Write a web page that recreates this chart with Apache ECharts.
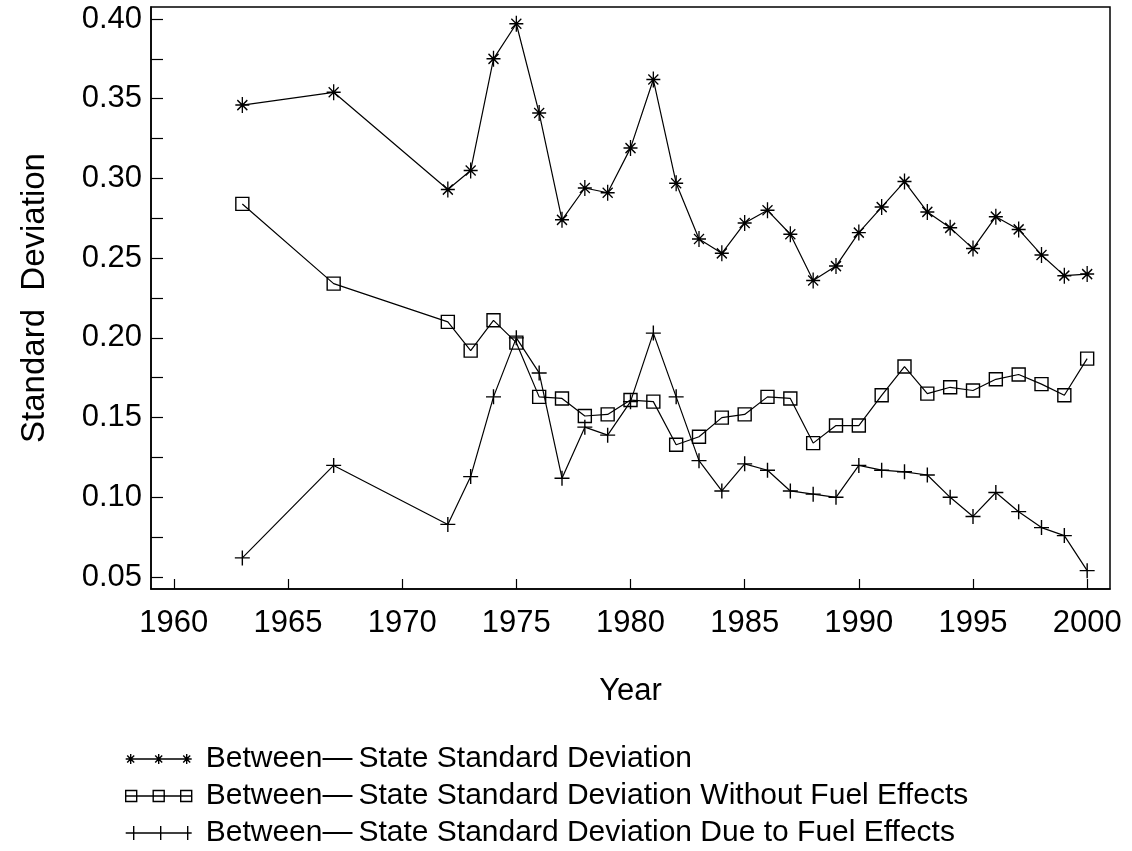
<!DOCTYPE html>
<html>
<head>
<meta charset="utf-8">
<title>Between-State Standard Deviation</title>
<script src="https://cdn.jsdelivr.net/npm/echarts@6/dist/echarts.min.js"></script>
<style>
  html, body { margin: 0; padding: 0; background: #fff; }
  #chart { width: 1132px; height: 851px; }
</style>
</head>
<body>
<div id="chart"></div>
<script>
// Observation years
const years = [1963, 1967, 1972, 1973, 1974, 1975, 1976, 1977, 1978, 1979, 1980,
  1981, 1982, 1983, 1984, 1985, 1986, 1987, 1988, 1989, 1990,
  1991, 1992, 1993, 1994, 1995, 1996, 1997, 1998, 1999, 2000];

// Between-state standard deviation
const sdTotal = [0.346, 0.354, 0.293, 0.305, 0.375, 0.397, 0.341, 0.274, 0.294, 0.291, 0.319,
  0.362, 0.297, 0.262, 0.253, 0.272, 0.280, 0.265, 0.236, 0.245, 0.266,
  0.282, 0.298, 0.279, 0.269, 0.256, 0.276, 0.268, 0.252, 0.239, 0.240];

// Standard deviation without fuel effects
const sdWithoutFuel = [0.284, 0.234, 0.210, 0.192, 0.211, 0.197, 0.163, 0.162, 0.151, 0.152, 0.161,
  0.160, 0.133, 0.138, 0.150, 0.152, 0.163, 0.162, 0.134, 0.145, 0.145,
  0.164, 0.182, 0.165, 0.169, 0.167, 0.174, 0.177, 0.171, 0.164, 0.187];

// Standard deviation due to fuel effects
const sdFuel = [0.062, 0.120, 0.083, 0.113, 0.163, 0.200, 0.178, 0.112, 0.144, 0.139, 0.160,
  0.203, 0.163, 0.123, 0.104, 0.121, 0.117, 0.104, 0.102, 0.100, 0.120,
  0.117, 0.116, 0.114, 0.100, 0.088, 0.103, 0.091, 0.081, 0.076, 0.054];

// Axis ticks
const xTicks = [1960, 1965, 1970, 1975, 1980, 1985, 1990, 1995, 2000];
const yLabelTicks = [0.05, 0.10, 0.15, 0.20, 0.25, 0.30, 0.35, 0.40];
const yTicks = [0.05, 0.075, 0.10, 0.125, 0.15, 0.175, 0.20, 0.225, 0.25, 0.275, 0.30, 0.325, 0.35, 0.375, 0.40];

const seriesNames = [
  'Between—\u2009State Standard Deviation',
  'Between—\u2009State Standard Deviation Without Fuel Effects',
  'Between—\u2009State Standard Deviation Due to Fuel Effects'
];

// Marker glyphs
const starPath = 'path://M7,0L7,16M0,8L14,8M2,3L12,13M12,3L2,13';
const squarePath = 'path://M0,0L13,0L13,13L0,13Z';
const plusPath = 'path://M7.5,0L7.5,15M0,7.5L15,7.5';

// Legend glyphs: a short line carrying three markers
const starLegend = 'path://M5,5L61,5' +
  'M5,0L5,10M0,5L10,5M1.5,1.5L8.5,8.5M8.5,1.5L1.5,8.5' +
  'M33,0L33,10M28,5L38,5M29.5,1.5L36.5,8.5M36.5,1.5L29.5,8.5' +
  'M61,0L61,10M56,5L66,5M57.5,1.5L64.5,8.5M64.5,1.5L57.5,8.5';
const squareLegend = 'path://M11,5.5L27.5,5.5M38.5,5.5L55,5.5' +
  'M0,0L11,0L11,11L0,11ZM27.5,0L38.5,0L38.5,11L27.5,11ZM55,0L66,0L66,11L55,11Z' +
  'M0,5.5L11,5.5M27.5,5.5L38.5,5.5M55,5.5L66,5.5';
const plusLegend = 'path://M0,7L66,7M8,0L8,14M35,0L35,14M62,0L62,14';

const pairs = (vals) => years.map((y, i) => [y, vals[i]]);

const FONT = '"Liberation Sans", Arial, Helvetica, sans-serif';
const markStyle = { color: 'rgba(0,0,0,0)', borderColor: '#000', borderWidth: 1.4 };

function lineSeries(name, vals, symbol, size) {
  return {
    name: name,
    type: 'line',
    data: pairs(vals),
    symbol: symbol,
    symbolSize: size,
    showAllSymbol: true,
    lineStyle: { color: '#000', width: 1.2 },
    itemStyle: markStyle,
    emphasis: { disabled: true }
  };
}

const chart = echarts.init(document.getElementById('chart'), null, { renderer: 'canvas' });

chart.setOption({
  animation: false,
  backgroundColor: '#fff',
  textStyle: { fontFamily: FONT, color: '#000' },
  grid: {
    left: 151, top: 7, width: 959, height: 582,
    show: true, borderColor: '#000', borderWidth: 1.5, backgroundColor: 'transparent'
  },
  xAxis: {
    type: 'value',
    min: 1959,
    max: 2001,
    name: 'Year',
    nameLocation: 'middle',
    nameGap: 87,
    nameTextStyle: { fontFamily: FONT, fontSize: 31, color: '#000' },
    axisLine: { show: true, lineStyle: { color: '#000', width: 1.5 } },
    axisTick: { show: true, inside: true, length: 10, customValues: xTicks, lineStyle: { color: '#000', width: 1.2 } },
    axisLabel: {
      customValues: xTicks, margin: 19,
      fontFamily: FONT, fontSize: 31, color: '#000',
      formatter: (v) => String(v)
    },
    splitLine: { show: false }
  },
  yAxis: {
    type: 'value',
    min: 0.0425,
    max: 0.4075,
    name: 'Standard  Deviation',
    nameLocation: 'middle',
    nameRotate: 90,
    nameGap: 100,
    nameTextStyle: { fontFamily: FONT, fontSize: 33, color: '#000' },
    axisLine: { show: true, lineStyle: { color: '#000', width: 1.5 } },
    axisTick: { show: true, inside: true, length: 12, customValues: yTicks, lineStyle: { color: '#000', width: 1.2 } },
    axisLabel: {
      customValues: yLabelTicks, margin: 9,
      fontFamily: FONT, fontSize: 31, color: '#000',
      formatter: (v) => v.toFixed(2)
    },
    splitLine: { show: false }
  },
  legend: {
    orient: 'vertical',
    left: 125,
    top: 744,
    padding: 0,
    itemGap: 7,
    itemWidth: 66,
    itemHeight: 14,
    symbolKeepAspect: true,
    selectedMode: false,
    textStyle: { fontFamily: FONT, fontSize: 30, lineHeight: 30, color: '#000', padding: [0, 0, 0, 9] },
    data: [
      { name: seriesNames[0], icon: starLegend, itemStyle: markStyle },
      { name: seriesNames[1], icon: squareLegend, itemStyle: markStyle },
      { name: seriesNames[2], icon: plusLegend, itemStyle: markStyle }
    ]
  },
  series: [
    lineSeries(seriesNames[0], sdTotal, starPath, [14, 16]),
    lineSeries(seriesNames[1], sdWithoutFuel, squarePath, [13, 13]),
    lineSeries(seriesNames[2], sdFuel, plusPath, [15, 15])
  ]
});
</script>
</body>
</html>
